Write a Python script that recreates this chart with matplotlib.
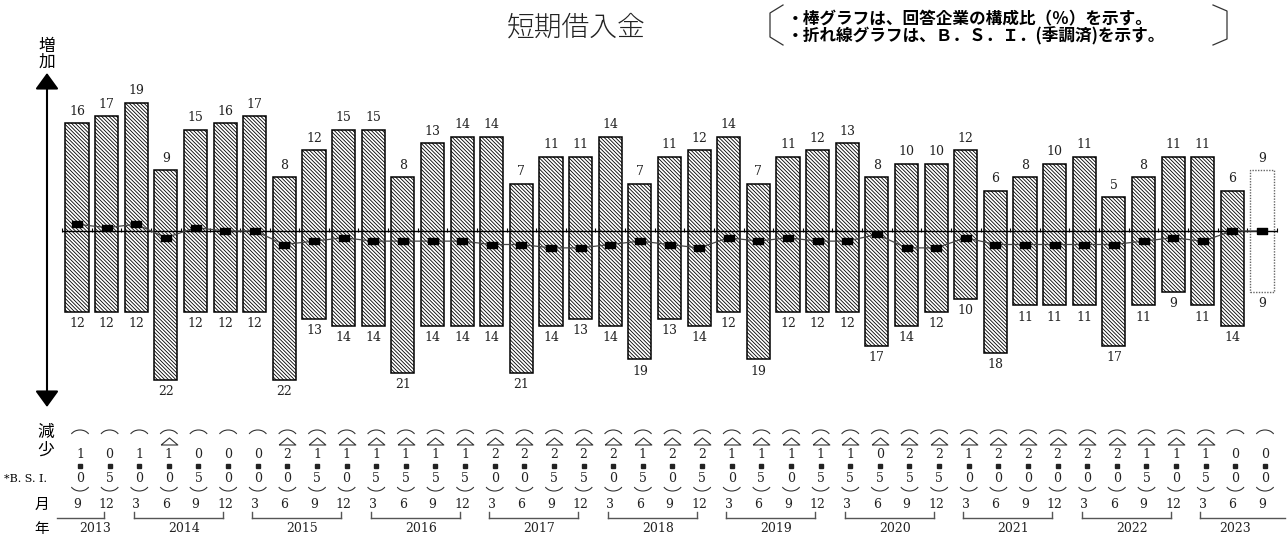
import numpy as np
import matplotlib
matplotlib.use('Agg')
import matplotlib.pyplot as plt
from matplotlib.patches import Arc

plt.rcParams['font.family'] = ['Noto Sans CJK JP', 'DejaVu Sans']
plt.rcParams['hatch.linewidth'] = 0.6

# 回答企業の構成比（%）
zouka = [16, 17, 19, 9, 15, 16, 17, 8, 12, 15, 15, 8, 13, 14, 14, 7, 11, 11, 14, 7, 11,
         12, 14, 7, 11, 12, 13, 8, 10, 10, 12, 6, 8, 10, 11, 5, 8, 11, 11, 6, 9]
gensho = [12, 12, 12, 22, 12, 12, 12, 22, 13, 14, 14, 21, 14, 14, 14, 21, 14, 13, 14, 19, 13,
          14, 12, 19, 12, 12, 12, 17, 14, 12, 10, 18, 11, 11, 11, 17, 11, 9, 11, 14, 9]
# B.S.I.（季調済）
bsi = [1.0, 0.5, 1.0, -1.0, 0.5, 0.0, 0.0, -2.0, -1.5, -1.0, -1.5, -1.5, -1.5, -1.5,
       -2.0, -2.0, -2.5, -2.5, -2.0, -1.5, -2.0, -2.5, -1.0, -1.5, -1.0, -1.5, -1.5,
       -0.5, -2.5, -2.5, -1.0, -2.0, -2.0, -2.0, -2.0, -2.0, -1.5, -1.0, -1.5, 0.0, 0.0]
# 月・年
months = [9, 12] + [3, 6, 9, 12] * 9 + [3, 6, 9]
years = [2013] * 2 + [y for y in range(2014, 2023) for _ in range(4)] + [2023] * 3

W, H = 1288, 537
X0, DX = 77.0, 29.625   # 1本目の棒の位置(px)と間隔
Y0, DY = 231.0, 6.75    # ゼロ線(px)と1ポイントあたりのpx


def px2x(px):
    return (px - X0) / DX


n = len(zouka)
x = np.arange(n)
cx = X0 + DX * x   # 表の列位置(px)

fig = plt.figure(figsize=(W / 100, H / 100), dpi=100)

# 棒グラフ・折れ線 ——————————————————————————
ax = fig.add_axes([0, 0, 1, 1])
ax.set_xlim(px2x(0), px2x(W))
ax.set_ylim(-(H - Y0) / DY, Y0 / DY)
ax.axis('off')

top = np.array(zouka)
low = np.array(gensho)
ax.bar(x[:-1], top[:-1] + low[:-1], bottom=-low[:-1], width=0.78, color='white',
       edgecolor='black', linewidth=1.1, hatch='\\' * 9, zorder=2)
# 最終期は白抜き（点線）
ax.bar(x[-1:], top[-1:] + low[-1:], bottom=-low[-1:], width=0.78, color='white',
       edgecolor='#666666', linewidth=1.0, linestyle=(0, (1, 1)), zorder=2)

ax.hlines(0, -0.5, n - 0.5, color='black', linewidth=1.0, zorder=3)
ax.vlines(np.arange(n + 1) - 0.5, -0.1, 0.5, color='black', linewidth=0.8, zorder=3)

rect = [(-1, -0.6), (1, -0.6), (1, 0.6), (-1, 0.6), (-1, -0.6)]
ax.plot(x, bsi, color='#444444', linewidth=0.9, marker=rect, markersize=7.5,
        markerfacecolor='black', markeredgecolor='black', zorder=4)

for i in x:
    ax.annotate('%i' % zouka[i], (i, zouka[i]), xytext=(0, 8.5), textcoords='offset points',
                ha='center', va='center', fontsize=9, family='DejaVu Serif', color='#222222')
    ax.annotate('%i' % gensho[i], (i, -gensho[i]), xytext=(0, -8.5), textcoords='offset points',
                ha='center', va='center', fontsize=9, family='DejaVu Serif', color='#222222')

# ピクセル座標の重ね軸 ——————————————————————————
axp = fig.add_axes([0, 0, 1, 1])
axp.set_xlim(0, W)
axp.set_ylim(H, 0)
axp.axis('off')
axp.patch.set_visible(False)

axp.text(576, 27, '短期借入金', ha='center', va='center', fontsize=20, color='#222222',
         fontweight='light')
axp.text(787, 19, '・棒グラフは、回答企業の構成比（％）を示す。', ha='left', va='center',
         fontsize=12, fontweight='bold')
axp.text(787, 36, '・折れ線グラフは、Ｂ．Ｓ．Ｉ．(季調済)を示す。', ha='left', va='center',
         fontsize=12, fontweight='bold')
axp.plot([783, 770, 770, 783], [5, 13, 37, 45], color='#333333', linewidth=0.9)
axp.plot([1213, 1227, 1227, 1213], [5, 11, 39, 45], color='#333333', linewidth=0.9)

# 縦矢印と見出し
axp.annotate('', xy=(47, 73), xytext=(47, 407),
             arrowprops=dict(arrowstyle='<|-|>,head_length=0.55,head_width=0.4',
                             mutation_scale=18, color='black', linewidth=1.5,
                             shrinkA=0, shrinkB=0))
axp.text(47, 46, '増', ha='center', va='center', fontsize=12)
axp.text(47, 62, '加', ha='center', va='center', fontsize=12)
axp.text(46, 432, '減', ha='center', va='center', fontsize=12)
axp.text(46, 450, '少', ha='center', va='center', fontsize=12)
axp.text(4, 479, '*B. S. I.', ha='left', va='center', fontsize=8, family='DejaVu Serif')
axp.text(42, 505, '月', ha='center', va='center', fontsize=10.5)
axp.text(42, 529, '年', ha='center', va='center', fontsize=10.5)

# B.S.I.の表
tri = [(-1, -0.42), (1, -0.42), (0, 0.42), (-1, -0.42)]
tc = '#222222'
bsi_a = np.array(bsi)
neg = bsi_a < 0
axp.plot(cx[neg] + 3, np.full(neg.sum(), 441), linestyle='none', marker=tri, markersize=12,
         markerfacecolor='none', markeredgecolor='#333333', markeredgewidth=0.8)
axp.plot(cx + 3, np.full(n, 466), linestyle='none', marker='s', markersize=2.2, color=tc)
for i, v in enumerate(bsi):
    d1 = int(abs(v))
    d2 = int(round(abs(v) * 10)) % 10
    axp.add_patch(Arc((cx[i] + 3, 438), 20, 16, theta1=205, theta2=335,
                      color='#333333', linewidth=0.8))
    axp.add_patch(Arc((cx[i] + 3, 483), 20, 16, theta1=25, theta2=155,
                      color='#333333', linewidth=0.8))
    axp.text(cx[i] + 3, 454, '%i' % d1, ha='center', va='center', fontsize=9,
             family='DejaVu Serif', color=tc)
    axp.text(cx[i] + 3, 479, '%i' % d2, ha='center', va='center', fontsize=9,
             family='DejaVu Serif', color=tc)
    axp.text(cx[i], 505, '%i' % months[i], ha='center', va='center', fontsize=9,
             family='DejaVu Serif', color=tc)

# 年の括り
for yr in sorted(set(years)):
    idx = [i for i in range(n) if years[i] == yr]
    i0, i1 = idx[0], idx[-1]
    xs = cx[i0] - 2.5 if months[i0] == 3 else 57
    xe = cx[i1] - 2.5 if months[i1] == 12 else 1285
    axp.plot([xs, xe], [518, 518], color='#555555', linewidth=1.0)
    if months[i0] == 3:
        axp.plot([xs, xs], [512, 518], color='#555555', linewidth=1.0)
    if months[i1] == 12:
        axp.plot([xe, xe], [512, 518], color='#555555', linewidth=1.0)
    axp.text(np.mean(cx[idx]) + 3, 529, '%i' % yr, ha='center', va='center', fontsize=9,
             family='DejaVu Serif', color=tc)

plt.savefig('out.png', dpi=100)
plt.close()
